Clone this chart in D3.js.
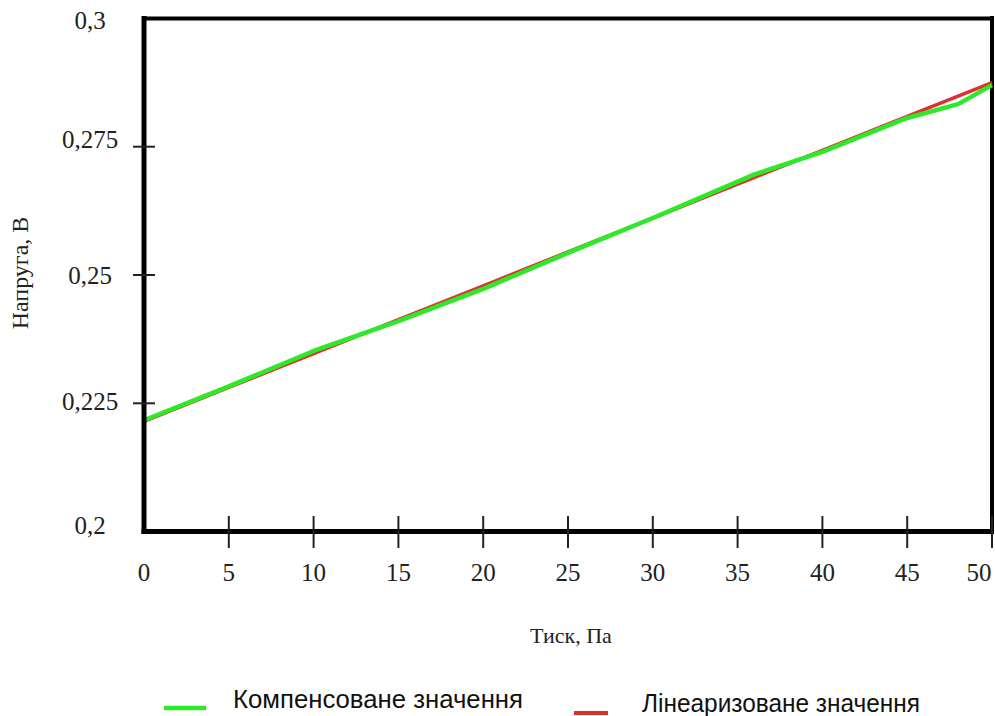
<!DOCTYPE html>
<html><head><meta charset="utf-8">
<script src="https://cdn.jsdelivr.net/npm/d3@7"></script>
<style>body{margin:0;background:#fff}svg{display:block}</style>
</head><body>
<script>
const xTicks = [0,5,10,15,20,25,30,35,40,45,50];
const yTicks = [0.2,0.225,0.25,0.275,0.3];
const greenX = [0,5,10,15,20,25,30,36,40,45,48,50];
const greenY = [0.2217,0.2283,0.2352,0.2410,0.2473,0.2543,0.2611,0.2696,0.2740,0.2806,0.2833,0.2870];
const redX = [0,5,10,15,20,25,30,35,40,45,50];
const redY = [0.2215,0.2281,0.2347,0.2413,0.2479,0.2545,0.2611,0.2677,0.2743,0.2809,0.2875];
const seriesNames = ["Компенсоване значення","Лінеаризоване значення"];
const xTitle = "Тиск, Па", yTitle = "Напруга, В";

const W=995,H=716;
const svg=d3.select("body").append("svg").attr("width",W).attr("height",H);
const x=d3.scaleLinear().domain([0,50]).range([144,992]);
const y=d3.scaleLinear().domain([0.2,0.3]).range([531.6,18.4]);
const fmt=v=>String(+v.toFixed(3)).replace(".",",");

// frame
svg.append("line").attr("x1",142).attr("x2",992).attr("y1",y(0.3)).attr("y2",y(0.3)).attr("stroke","#000").attr("stroke-width",4);
svg.append("line").attr("x1",x(50)).attr("x2",x(50)).attr("y1",16).attr("y2",531).attr("stroke","#000").attr("stroke-width",4);

// lines
const line=d3.line().x(d=>x(d[0])).y(d=>y(d[1]));
svg.append("path").datum(redX.map((v,i)=>[v,redY[i]])).attr("d",line).attr("fill","none").attr("stroke","#e0302c").attr("stroke-width",3.5);
svg.append("path").datum(greenX.map((v,i)=>[v,greenY[i]])).attr("d",line).attr("fill","none").attr("stroke","#2ee82a").attr("stroke-width",4.5).attr("stroke-linejoin","round");

// axes
svg.append("line").attr("x1",x(0)).attr("x2",x(0)).attr("y1",16).attr("y2",534).attr("stroke","#000").attr("stroke-width",5);
svg.append("line").attr("x1",141.5).attr("x2",994).attr("y1",y(0.2)).attr("y2",y(0.2)).attr("stroke","#000").attr("stroke-width",5);

const xa=d3.axisBottom(x).tickValues(xTicks).tickSize(0).tickFormat("");
svg.append("g").attr("transform",`translate(0,${y(0.2)})`).call(xa).call(g=>g.select(".domain").remove());
svg.selectAll(null).data(xTicks.filter(v=>v>0)).enter().append("line")
  .attr("x1",d=>x(d)).attr("x2",d=>x(d)).attr("y1",516).attr("y2",548).attr("stroke","#222").attr("stroke-width",2);
svg.selectAll(null).data(yTicks.filter(v=>v>0.2&&v<0.3)).enter().append("line")
  .attr("x1",133).attr("x2",155).attr("y1",d=>y(d)).attr("y2",d=>y(d)).attr("stroke","#222").attr("stroke-width",2);

svg.selectAll(null).data(xTicks).enter().append("text")
  .attr("x",d=>d===50?979:x(d)).attr("y",581).attr("text-anchor","middle")
  .attr("font-family","Liberation Serif").attr("font-size",25).attr("fill","#222").text(d=>d);
const yOff={0.3:2,0.275:-8,0.25:0,0.225:-2,0.2:-7};
svg.selectAll(null).data(yTicks).enter().append("text")
  .attr("x",90).attr("y",d=>y(d)+yOff[d]+9).attr("text-anchor","middle")
  .attr("font-family","Liberation Serif").attr("font-size",25).attr("fill","#222").text(fmt);

svg.append("text").attr("x",571).attr("y",643).attr("text-anchor","middle")
  .attr("font-family","Liberation Serif").attr("font-size",22).attr("fill","#222").text(xTitle);
svg.append("text").attr("transform","translate(28,273) rotate(-90)").attr("text-anchor","middle")
  .attr("font-family","Liberation Serif").attr("font-size",24).attr("fill","#222").text(yTitle);

// legend
svg.append("line").attr("x1",164).attr("x2",206).attr("y1",708).attr("y2",708).attr("stroke","#2ee82a").attr("stroke-width",4.5);
svg.append("text").attr("x",233).attr("y",708).attr("font-family","Liberation Sans").attr("font-size",25)
  .attr("textLength",290).attr("lengthAdjust","spacingAndGlyphs").attr("fill","#111").text(seriesNames[0]);
svg.append("line").attr("x1",574).attr("x2",608).attr("y1",713).attr("y2",713).attr("stroke","#e0302c").attr("stroke-width",4);
svg.append("text").attr("x",642).attr("y",712).attr("font-family","Liberation Sans").attr("font-size",25)
  .attr("textLength",278).attr("lengthAdjust","spacingAndGlyphs").attr("fill","#111").text(seriesNames[1]);
</script>
</body></html>
